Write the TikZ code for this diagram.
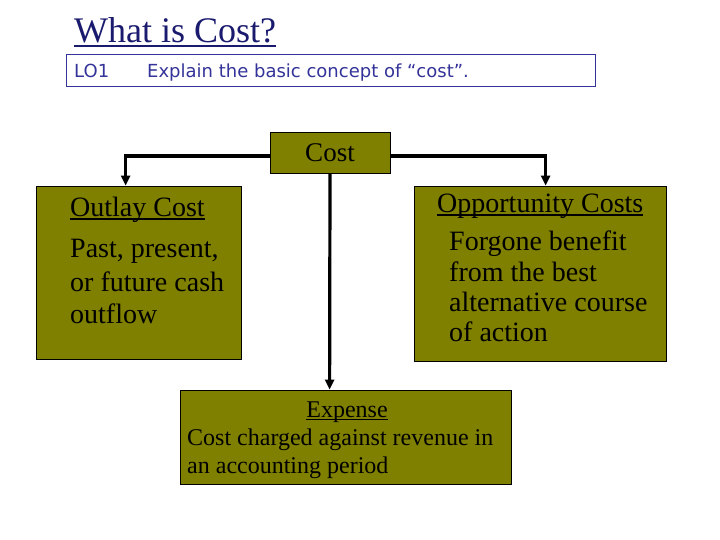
\documentclass[tikz,border=0pt]{standalone}
\usepackage{fontspec}
\setmainfont{Liberation Serif}
\newfontfamily\verd{DejaVu Sans}
\usetikzlibrary{arrows.meta}
\definecolor{olivebox}{HTML}{808000}
\definecolor{titlenavy}{HTML}{1A1A6E}
\definecolor{lonavy}{HTML}{333399}
\newsavebox\ulbox
\newcommand\myul[3]{\sbox\ulbox{#3}\rlap{\rule[#1]{\wd\ulbox}{#2}}\usebox\ulbox}
\tikzset{
  box/.style={draw=black, line width=0.8pt, fill=olivebox, inner sep=0pt},
  txt/.style={anchor=base west, inner sep=0pt, text=black},
  big/.style={font=\fontsize{28}{30}\selectfont},
  mid/.style={font=\fontsize{24}{28}\selectfont},
  lo/.style={font=\verd\fontsize{18}{20}\selectfont},
  conn/.style={line width=3.2pt, -{Triangle[length=10pt,width=9pt]}},
}
\begin{document}
\begin{tikzpicture}[x=1pt,y=-1pt]
\useasboundingbox (0,0) rectangle (720,540);
% title
\node[txt, text=titlenavy, font=\fontsize{36}{40}\selectfont] (title) at (74,43) {\myul{-4.5pt}{2.5pt}{What is Cost?}};
% LO box
\node[draw=lonavy, line width=0.8pt, minimum width=529pt, minimum height=32pt, inner sep=0pt] (lobox) at (330.5,70) {};
\node[txt, text=lonavy, lo] (lo1) at (74,77.5) {LO1};
\node[txt, text=lonavy, lo] (loexp) at (147,77.5) {Explain the basic concept of “cost”.};
% boxes
\node[box, minimum width=120pt, minimum height=41pt] (cost) at (330,152.5) {};
\node[txt, anchor=base, font=\fontsize{27}{30}\selectfont] (costt) at (330,162) {Cost};
\node[box, minimum width=205pt, minimum height=173pt] (outlay) at (138.5,272.5) {};
\node[box, minimum width=252pt, minimum height=175pt] (opp) at (540,273.5) {};
\node[box, minimum width=331pt, minimum height=94pt] (exp) at (345.5,437) {};
% outlay text
\node[txt, big] (outh) at (70,217) {\myul{-3pt}{2pt}{Outlay Cost}};
\node[txt, big] (outb1) at (70,258) {Past, present,};
\node[txt, big] (outb2) at (70,291) {or future cash};
\node[txt, big] (outb3) at (70,323) {outflow};
% opportunity text
\node[txt, big] (opph) at (437,213) {\myul{-3pt}{2pt}{Opportunity Costs}};
\node[txt, big] (oppb1) at (449,251) {Forgone benefit};
\node[txt, big] (oppb2) at (449,281) {from the best};
\node[txt, big] (oppb3) at (449,311) {alternative course};
\node[txt, big] (oppb4) at (449,341) {of action};
% expense text
\node[txt, mid, anchor=base] (exph) at (347,417) {\myul{-3pt}{1.5pt}{Expense}};
\node[txt, mid] (expb1) at (187,445) {Cost charged against revenue in};
\node[txt, mid] (expb2) at (187,473) {an accounting period};
% connectors
\draw[conn] ([yshift=-3.5pt]cost.west) -| ([xshift=90pt]outlay.north west);
\draw[conn] ([yshift=-3.5pt]cost.east) -| ([xshift=132pt]opp.north west);
\draw[conn] (cost.south) -- ([xshift=150pt]exp.north west);
\end{tikzpicture}
\end{document}
